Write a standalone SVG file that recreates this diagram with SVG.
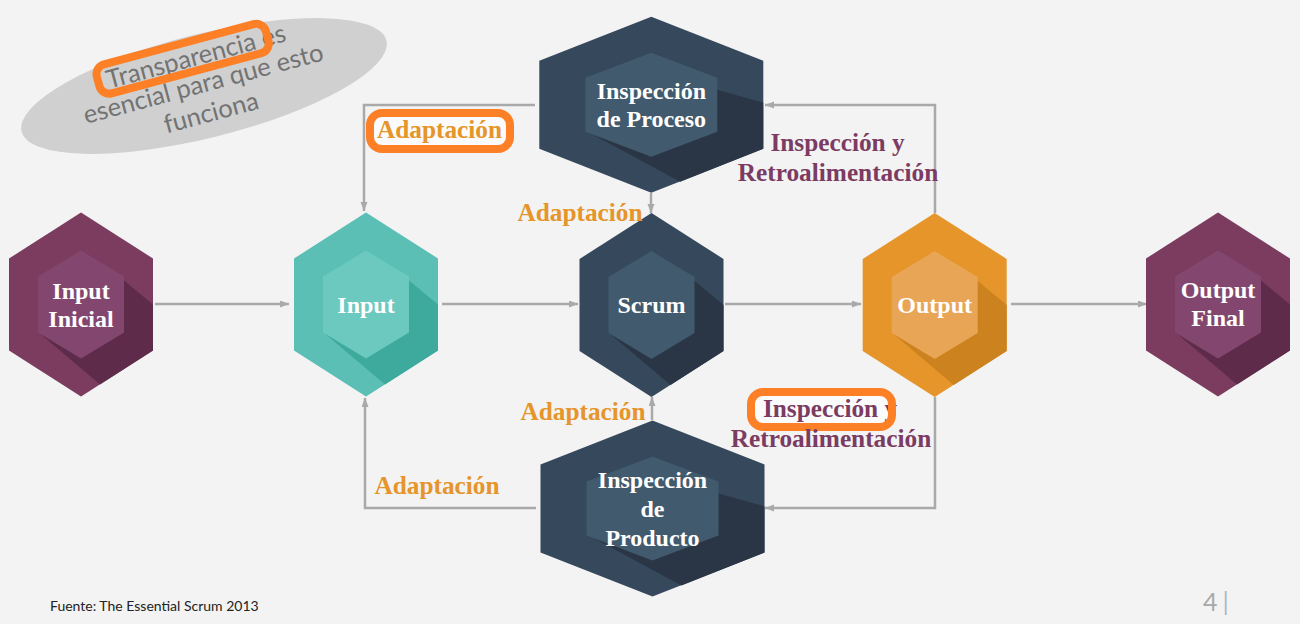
<svg xmlns="http://www.w3.org/2000/svg" width="1300" height="624" viewBox="0 0 1300 624">
<defs>
<style>
.bg{fill:#f3f3f3}
.p-o{fill:#7b3c60}.p-i{fill:#83476f}.p-s{fill:#5e2c4a}
.t-o{fill:#5bbfb6}.t-i{fill:#6bc9c0}.t-s{fill:#3ea99d}
.d-o{fill:#36485c}.d-i{fill:#415a6d}.d-s{fill:#2a3645}
.o-o{fill:#e5952a}.o-i{fill:#e8a555}.o-s{fill:#cc821e}
.nt{font-family:"Liberation Serif","Times New Roman",serif;font-weight:bold;font-size:24px;fill:#ffffff;text-anchor:middle}
.lbl-o{font-family:"Liberation Serif","Times New Roman",serif;font-weight:bold;font-size:25.3px;fill:#e5952a;text-anchor:middle}
.lbl-p{font-family:"Liberation Serif","Times New Roman",serif;font-weight:bold;font-size:25.3px;fill:#7b3b62;text-anchor:middle}
.conn{fill:none;stroke:#a9a9a9;stroke-width:2.5}
.hl{fill:none;stroke:#fd7f26;stroke-width:8}
.hlf{fill:#fbfbfb;stroke:none}
.note{font-family:Lato,"Noto Sans",sans-serif;font-size:25.5px;fill:#737373;text-anchor:middle}
</style>
<marker id="arr" markerUnits="userSpaceOnUse" markerWidth="10" markerHeight="8" refX="9" refY="3.5" orient="auto">
<path d="M0,0 L9,3.5 L0,7 z" fill="#a9a9a9"/>
</marker>
<polygon id="hexO" points="0,-92 72,-46 72,46 0,92 -72,46 -72,-46"/>
<polygon id="hexS" points="43,-24 72,0 72,46 19,80 -40,30"/>
<polygon id="hexI" points="0,-54 43,-28 43,28 0,54 -43,28 -43,-28"/>
<polygon id="bigO" points="0,-88 112,-44 112,44 0,88 -112,44 -112,-44"/>
<polygon id="bigS" points="66,-15 112,-2 112,44 29,77 -60,29"/>
<polygon id="bigI" points="0,-52 66,-27 66,27 0,52 -66,27 -66,-27"/>
</defs>
<rect class="bg" x="0" y="0" width="1300" height="624"/>

<g id="note">
<ellipse cx="204" cy="86" rx="188" ry="52" transform="rotate(-14 204 86)" fill="#d0d0d0"/>
<g transform="translate(205,90) rotate(-15)">
<text class="note" x="0" y="-26">Transparencia es</text>
<text class="note" x="0" y="2">esencial para que esto</text>
<text class="note" x="0" y="32">funciona</text>
<rect class="hl" x="-101" y="-51" width="175" height="30" rx="10"/>
</g>
</g>

<g id="connectors">
<path class="conn" d="M155,304 H289" marker-end="url(#arr)"/>
<path class="conn" d="M442,304 H578" marker-end="url(#arr)"/>
<path class="conn" d="M725,304 H861" marker-end="url(#arr)"/>
<path class="conn" d="M1011,304 H1147" marker-end="url(#arr)"/>
<path class="conn" d="M935,213 V105 H765" marker-end="url(#arr)"/>
<path class="conn" d="M935,397 V508 H765" marker-end="url(#arr)"/>
<path class="conn" d="M535,105 H364 V211" marker-end="url(#arr)"/>
<path class="conn" d="M536,508 H365 V398" marker-end="url(#arr)"/>
<path class="conn" d="M651,193 V213" marker-end="url(#arr)"/>
<path class="conn" d="M652,420 V397" marker-end="url(#arr)"/>
</g>

<g id="input-inicial" transform="translate(81,304.5)">
<use href="#hexO" class="p-o"/><use href="#hexS" class="p-s"/><use href="#hexI" class="p-i"/>
<text class="nt" x="0" y="-6">Input</text>
<text class="nt" x="0" y="22.5">Inicial</text>
</g>

<g id="input" transform="translate(366,304.5)">
<use href="#hexO" class="t-o"/><use href="#hexS" class="t-s"/><use href="#hexI" class="t-i"/>
<text class="nt" x="0" y="8">Input</text>
</g>

<g id="scrum" transform="translate(651.5,305)">
<use href="#hexO" class="d-o"/><use href="#hexS" class="d-s"/><use href="#hexI" class="d-i"/>
<text class="nt" x="0" y="8">Scrum</text>
</g>

<g id="output" transform="translate(934.7,305)">
<use href="#hexO" class="o-o"/><use href="#hexS" class="o-s"/><use href="#hexI" class="o-i"/>
<text class="nt" x="0" y="8">Output</text>
</g>

<g id="output-final" transform="translate(1218,304.5)">
<use href="#hexO" class="p-o"/><use href="#hexS" class="p-s"/><use href="#hexI" class="p-i"/>
<text class="nt" x="0" y="-7">Output</text>
<text class="nt" x="0" y="21.5">Final</text>
</g>

<g id="inspeccion-proceso" transform="translate(651.3,104.7)">
<use href="#bigO" class="d-o"/><use href="#bigS" class="d-s"/><use href="#bigI" class="d-i"/>
<text class="nt" x="0" y="-5.5">Inspección</text>
<text class="nt" x="0" y="22.5">de Proceso</text>
</g>

<g id="inspeccion-producto" transform="translate(652.5,508.5)">
<use href="#bigO" class="d-o"/><use href="#bigS" class="d-s"/><use href="#bigI" class="d-i"/>
<text class="nt" x="0" y="-21">Inspección</text>
<text class="nt" x="0" y="8">de</text>
<text class="nt" x="0" y="37">Producto</text>
</g>

<g id="labels">
<rect class="hlf" x="370" y="113" width="140" height="36" rx="12"/>
<text class="lbl-o" x="439.5" y="138">Adaptación</text>
<rect class="hl" x="370" y="113" width="140" height="36" rx="12"/>
<text class="lbl-o" x="580" y="221">Adaptación</text>
<text class="lbl-o" x="583" y="420">Adaptación</text>
<text class="lbl-o" x="437" y="494">Adaptación</text>
<text class="lbl-p" x="837.5" y="151">Inspección y</text>
<text class="lbl-p" x="838" y="181">Retroalimentación</text>
<rect class="hlf" x="751" y="392" width="141" height="35" rx="12"/>
<text class="lbl-p" x="830" y="417">Inspección y</text>
<rect class="hl" x="751" y="392" width="141" height="35" rx="12"/>
<text class="lbl-p" x="831" y="447">Retroalimentación</text>
</g>

<g id="footer">
<text x="50" y="611" font-family="Lato,'Noto Sans',sans-serif" font-size="14" fill="#222">Fuente: The Essential Scrum 2013</text>
<text x="1203" y="611" font-family="Lato,'Noto Sans',sans-serif" font-size="25" fill="#a8a8a8">4<tspan dx="5" fill="#a9b8cc">|</tspan></text>
</g>
</svg>
